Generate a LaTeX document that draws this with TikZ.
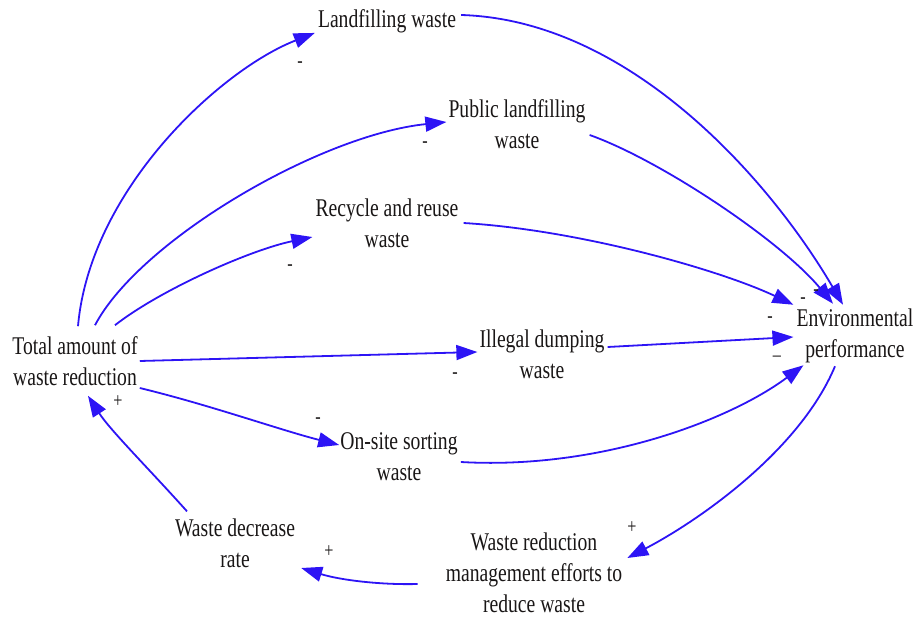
\documentclass[tikz,border=0pt]{standalone}
\usepackage{fontspec}
\setmainfont{Liberation Serif}[FakeStretch=0.77]
\usetikzlibrary{arrows.meta}
\definecolor{linkblue}{RGB}{45,20,245}
\definecolor{labelink}{RGB}{25,22,22}
\begin{document}
\begin{tikzpicture}[x=1pt,y=-1pt,
  var/.style={inner sep=0pt, align=center, text=labelink,
    font=\fontsize{25.5}{31}\selectfont},
  link/.style={draw=linkblue, line width=1.8pt,
    -{Triangle[length=21pt,width=15pt]}},
  sign/.style={inner sep=0pt, text=labelink, font=\fontsize{21}{21}\selectfont}]
\useasboundingbox (0,0) rectangle (919,618);

% variables
\node[var] (total)    at (75,361)  {Total amount of\\waste reduction};
\node[var] (landfill) at (387,21)  {Landfilling waste};
\node[var] (public)   at (517,124) {Public landfilling\\waste};
\node[var] (recycle)  at (387,223) {Recycle and reuse\\waste};
\node[var] (illegal)  at (542,354) {Illegal dumping\\waste};
\node[var] (onsite)   at (399,457) {On-site sorting\\waste};
\node[var] (env)      at (855,336) {Environmental\\performance};
\node[var] (mgmt)     at (534,573) {Waste reduction\\management efforts to\\reduce waste};
\node[var] (decrease) at (235,543) {Waste decrease\\rate};

% links out of the total amount of waste reduction
\draw[link] ([shift={(3,-10)}]total.north) .. controls (90,190) and (220,70) .. ([shift={(-3,0)}]landfill.south west);
\draw[link] ([shift={(20,-11)}]total.north) .. controls (140,240) and (320,135) .. ([shift={(-2,-2)}]public.west);
\draw[link] ([shift={(40,-11)}]total.north) .. controls (160,290) and (250,250) .. ([shift={(-3,14)}]recycle.west);
\draw[link] ([shift={(2,0)}]total.east) -- ([shift={(-2,-2)}]illegal.west);
\draw[link] ([shift={(2,27)}]total.east) .. controls (210,405) and (280,430) .. ([shift={(-1,-12)}]onsite.west);

% links into environmental performance
\draw[link] ([shift={(5,-6)}]landfill.east) .. controls (630,20) and (770,180) .. ([shift={(-12,-4)}]env.north);
\draw[link] ([shift={(4,11)}]public.east) .. controls (660,160) and (780,240) .. ([shift={(-22,-5)}]env.north);
\draw[link] ([shift={(5,0)}]recycle.east) .. controls (580,230) and (720,270) .. ([shift={(-3,-4)}]env.north west);
\draw[link] ([shift={(3,-7)}]illegal.east) -- ([shift={(-3,1)}]env.west);
\draw[link] ([shift={(3,5)}]onsite.east) .. controls (600,470) and (730,420) .. ([shift={(7,2)}]env.south west);

% feedback loop
\draw[link] ([shift={(-20,3)}]env.south) .. controls (800,450) and (700,520) .. ([shift={(5,-15)}]mgmt.east);
\draw[link] ([shift={(-28,11)}]mgmt.west) .. controls (380,585) and (340,580) .. ([shift={(6,25)}]decrease.east);
\draw[link] ([shift={(-48,-7)}]decrease.north) .. controls (150,470) and (110,430) .. ([shift={(13,10)}]total.south);

% polarities
\node[sign] (s1)  at (300,65)  {-};
\node[sign] (s2)  at (425,145) {-};
\node[sign] (s3)  at (290,268) {-};
\node[sign] (s4)  at (455,376) {-};
\node[sign] (s5)  at (318,421) {-};
\node[sign] (s6)  at (816,293) {-};
\node[sign] (s7)  at (803,301) {-};
\node[sign] (s8)  at (770,320) {-};
\node[sign] (s9)  at (777,359) {--};
\node[sign] (s10) at (632,528) {+};
\node[sign] (s11) at (329,552) {+};
\node[sign] (s12) at (118,402) {+};
\end{tikzpicture}
\end{document}
